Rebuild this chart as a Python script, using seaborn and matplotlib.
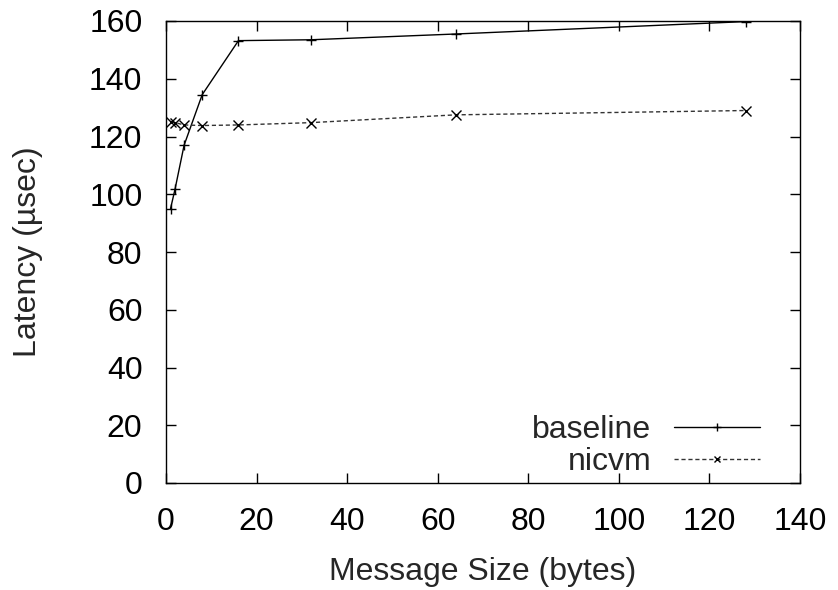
import matplotlib
matplotlib.use("Agg")
import matplotlib.pyplot as plt
from matplotlib.lines import Line2D
import seaborn as sns
import pandas as pd

sizes = [1, 2, 4, 8, 16, 32, 64, 128]
baseline = [95.0, 101.8, 117.0, 134.5, 153.2, 153.5, 155.5, 159.8]
nicvm = [125.0, 124.8, 124.0, 123.8, 124.0, 124.8, 127.5, 129.0]
x_ticks = [0, 20, 40, 60, 80, 100, 120, 140]
y_ticks = [0, 20, 40, 60, 80, 100, 120, 140, 160]

sns.set_theme(style="ticks")
plt.rcParams["font.family"] = ["Liberation Sans", "DejaVu Sans"]

df = pd.DataFrame({
    "size": sizes * 2,
    "latency": baseline + nicvm,
    "series": ["baseline"] * len(sizes) + ["nicvm"] * len(sizes),
})

FS = 23
fig = plt.figure(figsize=(8.38, 5.9), dpi=100)
ax = fig.add_axes([166 / 838, 1 - 483 / 590, 634 / 838, 462 / 590])

sns.lineplot(data=df, x="size", y="latency", hue="series", style="series",
             palette={"baseline": "black", "nicvm": "#333333"},
             dashes={"baseline": "", "nicvm": (3, 2)},
             markers={"baseline": "+", "nicvm": "x"},
             markersize=7, markeredgewidth=1.0, markeredgecolor="black",
             linewidth=1.0, ax=ax, legend=False)

ax.set_xlim(0, 140)
ax.set_ylim(0, 160)
ax.set_xticks(x_ticks)
ax.set_yticks(y_ticks)
ax.tick_params(direction="in", length=7, width=1, top=True, right=True,
               labelsize=FS, colors="black")
ax.tick_params(axis="x", pad=17)
ax.tick_params(axis="y", pad=17)
for s in ax.spines.values():
    s.set_linewidth(1.0)
    s.set_color("black")
ax.set_xlabel("Message Size (bytes)", fontsize=FS, labelpad=15)
ax.set_ylabel("Latency (µsec)", fontsize=FS, labelpad=33)

handles = [
    Line2D([], [], color="black", lw=1.0, marker="+", markersize=6),
    Line2D([], [], color="#333333", lw=1.0, ls=(0, (3, 2)), marker="x",
           markersize=5, markeredgecolor="black"),
]
ax.legend(handles, ["baseline", "nicvm"], loc="lower right", frameon=False,
          markerfirst=False, handlelength=2.7, fontsize=FS, labelspacing=0.05,
          handletextpad=0.7, borderpad=0, borderaxespad=0,
          bbox_to_anchor=(594 / 634, 6 / 462))

fig.savefig("out.png", dpi=100)
